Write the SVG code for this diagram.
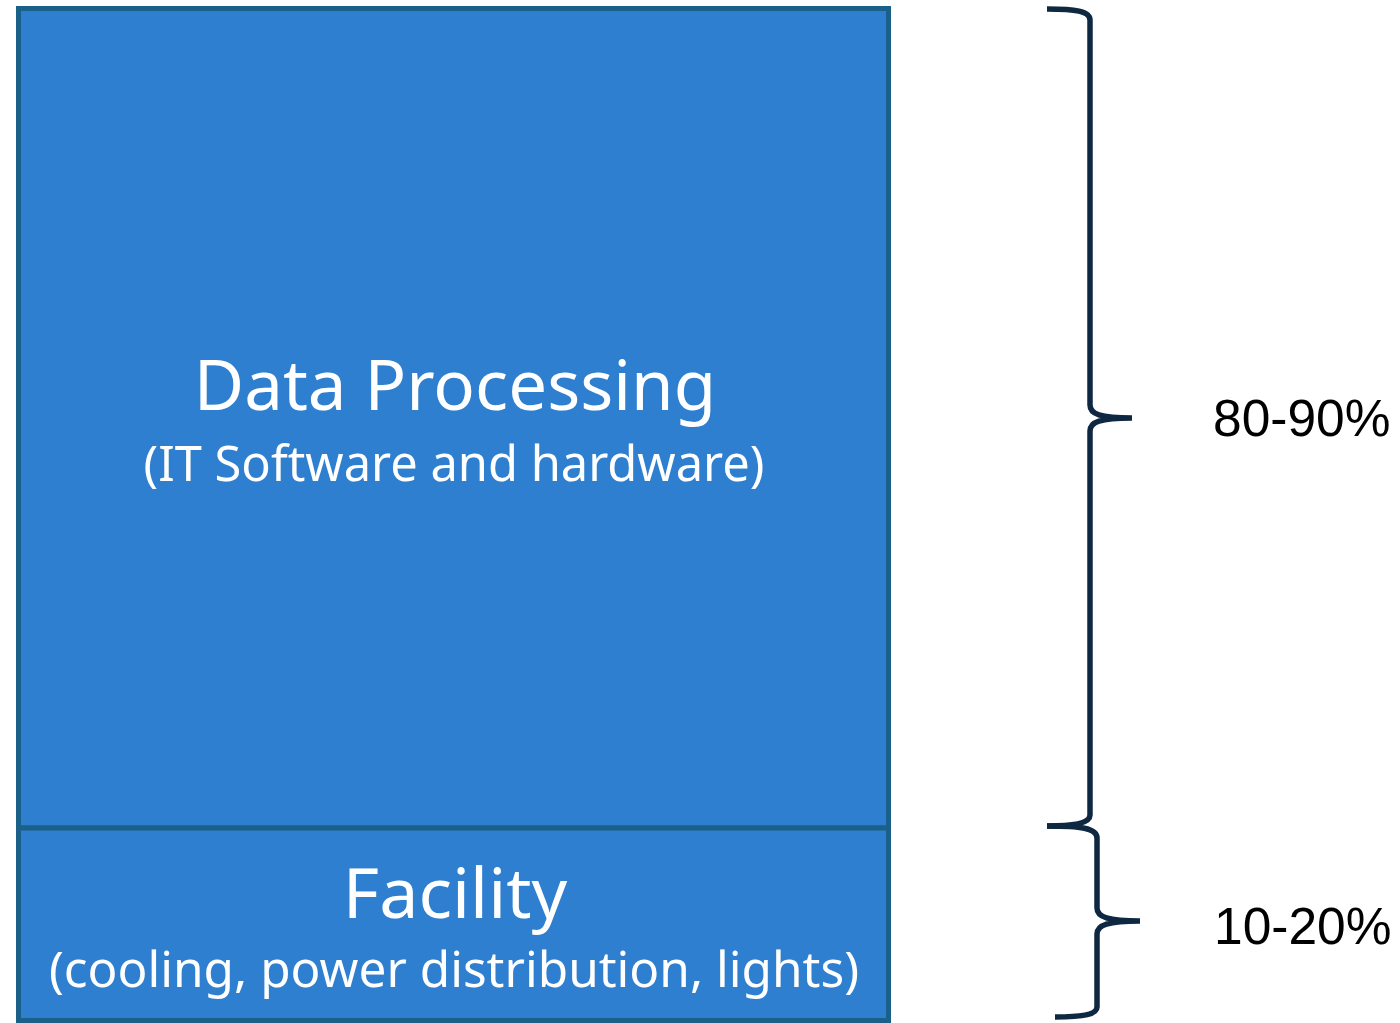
<svg xmlns="http://www.w3.org/2000/svg" width="1400" height="1023" viewBox="0 0 1400 1023">
<style>
.box{fill:#2E7FCF;stroke:#1A6088;stroke-width:5}
.title{font-family:"Noto Sans",sans-serif;fill:#fff;text-anchor:middle}
.brace{fill:none;stroke:#0E2841;stroke-width:5.5;stroke-linecap:butt}
.pct{font-family:"Liberation Sans",Arial,sans-serif;font-size:51.5px;fill:#000}
</style>
<rect width="1400" height="1023" fill="#fff"/>
<g id="data-processing">
<rect class="box" x="18.5" y="8.5" width="870" height="819.5"/>
<text class="title" x="455" y="410" font-size="69">Data Processing</text>
<text class="title" x="454" y="481" font-size="48.8">(IT Software and hardware)</text>
</g>
<g id="facility">
<rect class="box" x="18.5" y="828" width="870" height="192.5"/>
<text class="title" x="455" y="918" font-size="70">Facility</text>
<text class="title" x="454" y="987" font-size="49.5">(cooling, power distribution, lights)</text>
</g>
<g id="connectors">
<path class="brace" d="M1047,9 C1075,9 1090,11 1090,20 L1090,405 C1090,414 1100,418 1132,418 C1100,418 1090,422 1090,431 L1090,815 C1090,823 1075,826 1047,826"/>
<path class="brace" d="M1047,826 C1080,826 1097,828 1097,838 L1097,908 C1097,917 1108,921 1140,921 C1108,921 1097,925 1097,934 L1097,1007 C1097,1014 1085,1017 1055,1017"/>
</g>
<g id="labels">
<text class="pct" x="1213" y="436">80-90%</text>
<text class="pct" x="1214" y="944">10-20%</text>
</g>
</svg>
